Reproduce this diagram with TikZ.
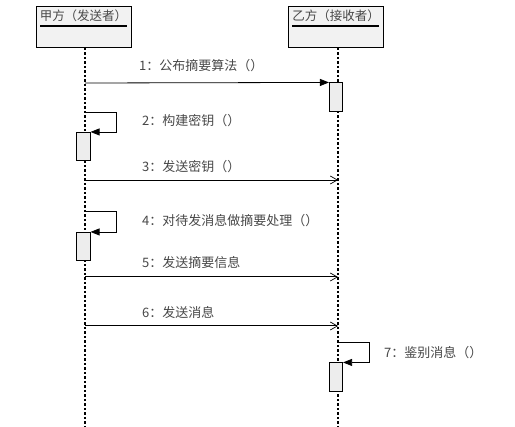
\documentclass[tikz,border=0pt]{standalone}
\usepackage{fontspec}
\newfontfamily\cjk{Noto Sans CJK SC}
\usetikzlibrary{arrows.meta}
\begin{document}
\begin{tikzpicture}[x=1pt,y=-1pt,
  actor/.style={draw,line width=1pt,fill=black!5,minimum width=95pt,minimum height=41pt,inner sep=0pt},
  lifeline/.style={line width=1.4pt,dash pattern=on 2.5pt off 2pt},
  actbox/.style={draw,line width=0.6pt,fill=black!7,minimum width=13.5pt,minimum height=28.5pt,inner sep=0pt},
  lbl/.style={font=\cjk\fontsize{13}{15}\selectfont,text=black!72,anchor=west,inner sep=0pt},
  ttl/.style={font=\cjk\fontsize{12.5}{14}\selectfont,text=black!72,inner sep=0pt},
  sync/.style={line width=0.8pt,-{Triangle[length=9pt,width=7pt]}},
  async/.style={line width=0.8pt,-{Straight Barb[length=7pt,width=8pt,line width=0.7pt]}}]
\useasboundingbox (0,0) rectangle (515,427);
% actors
\node[actor] (A) at (83.5,27.5) {};
\node[actor] (B) at (336,27.5) {};
\node[ttl] (At) at (83.5,16) {甲方（发送者）};
\node[ttl] (Bt) at (336,16) {乙方（接收者）};
\draw[line width=1.2pt] (40,26) coordinate (Au1) -- (127,26) coordinate (Au2);
\draw[line width=1.2pt] (292,26) coordinate (Bu1) -- (379,26) coordinate (Bu2);
% lifelines
\coordinate (Atop) at (85,48);
\coordinate (Abot) at (85,427);
\coordinate (Btop) at (338,48);
\coordinate (Bbot) at (338,427);
\draw[lifeline] (Atop) -- (Abot);
\draw[lifeline] (Btop) -- (Bbot);
% activation boxes
\node[actbox] (b1) at (336,97) {};
\node[actbox] (a2) at (83.5,146.5) {};
\node[actbox] (a4) at (83.5,246.5) {};
\node[actbox] (b7) at (336,377) {};
% message 1
\coordinate (m1) at (85,83);
\draw[sync] (m1) -- (b1.north west);
\node[lbl] (l1) at (139,66) {1：公布摘要算法（）};
% message 2
\coordinate (m2) at (85,112);
\draw[sync] (m2) -- (116,112) |- (a2.north east);
\node[lbl] (l2) at (142,121) {2：构建密钥（）};
% message 3
\coordinate (m3s) at (85,180);
\coordinate (m3e) at (338,180);
\draw[async] (m3s) -- (m3e);
\node[lbl] (l3) at (142,167) {3：发送密钥（）};
% message 4
\coordinate (m4) at (85,211);
\draw[sync] (m4) -- (116,211) |- (a4.north east);
\node[lbl] (l4) at (142,221) {4：对待发消息做摘要处理（）};
% message 5
\coordinate (m5s) at (85,277);
\coordinate (m5e) at (338,277);
\draw[async,line width=1pt] (m5s) -- (m5e);
\node[lbl] (l5) at (142,263) {5：发送摘要信息};
% message 6
\coordinate (m6s) at (85,326);
\coordinate (m6e) at (338,326);
\draw[async,line width=1pt] (m6s) -- (m6e);
\node[lbl] (l6) at (142,313) {6：发送消息};
% message 7
\coordinate (m7) at (338,342);
\draw[sync] (m7) -- (369,342) |- (b7.north east);
\node[lbl] (l7) at (384,353) {7：鉴别消息（）};
\end{tikzpicture}
\end{document}
